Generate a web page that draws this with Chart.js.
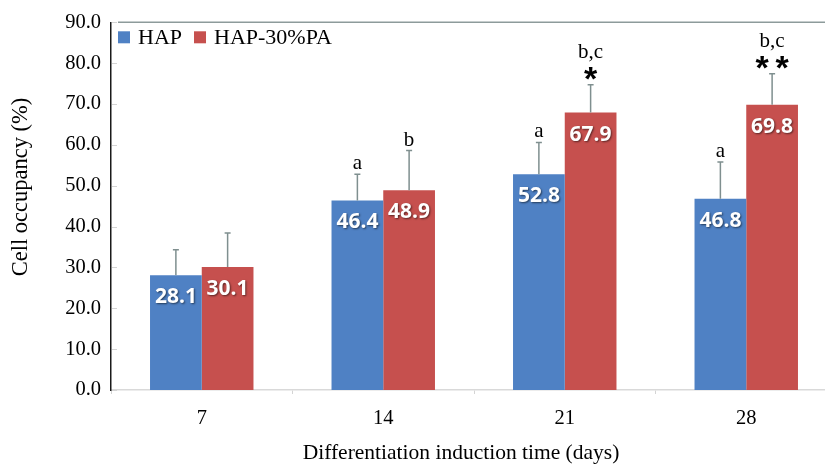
<!DOCTYPE html>
<html lang="en">
<head>
    <meta charset="UTF-8">
    <title>Cell occupancy</title>
    <script src="https://cdn.jsdelivr.net/npm/chart.js"></script>
    <style>
        html, body {
            margin: 0;
            padding: 0;
            background: #fff;
            overflow: hidden;
        }
        .wrap {
            width: 840px;
            height: 465px;
        }
    </style>
</head>
<body>
    <div class="wrap">
        <canvas id="occChart" width="840" height="465"></canvas>
    </div>

    <script>
        // data
        const days = ['7', '14', '21', '28'];
        const hapValues = [28.1, 46.4, 52.8, 46.8];
        const paValues = [30.1, 48.9, 67.9, 69.8];
        const hapSD = [6.2, 6.4, 7.8, 9.0];
        const paSD = [8.3, 9.7, 6.8, 7.6];
        const hapLetters = ['', 'a', 'a', 'a'];
        const paLetters = ['', 'b', 'b,c', 'b,c'];
        const paStars = ['', '', '*', '**'];

        const xTitle = 'Differentiation induction time (days)';
        const yTitle = 'Cell occupancy (%)';

        const serif = '"Liberation Serif", "Times New Roman", serif';
        const blue = '#4f81c4';
        const red = '#c6504e';

        // upper error bars, significance letters and stars
        const annotations = {
            id: 'annotations',
            afterDatasetsDraw(chart) {
                const c = chart.ctx;
                const y = chart.scales.y;
                const sets = [
                    { sd: hapSD, vals: hapValues, letters: hapLetters, stars: null },
                    { sd: paSD, vals: paValues, letters: paLetters, stars: paStars }
                ];
                sets.forEach((s, di) => {
                    chart.getDatasetMeta(di).data.forEach((bar, i) => {
                        const top = y.getPixelForValue(s.vals[i] + s.sd[i]);
                        c.save();
                        c.strokeStyle = '#7f8f8f';
                        c.lineWidth = 1.5;
                        c.beginPath();
                        c.moveTo(bar.x, bar.y);
                        c.lineTo(bar.x, top);
                        c.moveTo(bar.x - 3, top);
                        c.lineTo(bar.x + 3, top);
                        c.stroke();

                        c.fillStyle = '#000';
                        c.textAlign = 'center';
                        c.textBaseline = 'alphabetic';
                        let base = top - 5;
                        if (s.stars && s.stars[i]) {
                            c.font = 'bold 34px "Liberation Sans", Arial, sans-serif';
                            const n = s.stars[i].length;
                            for (let k = 0; k < n; k++) {
                                const sx = bar.x + (k - (n - 1) / 2) * 20;
                                c.fillText('*', sx, top + 5);
                            }
                            base = top - 27;
                        }
                        if (s.letters[i]) {
                            c.font = '21px ' + serif;
                            c.fillText(s.letters[i], bar.x, base);
                        }
                        c.restore();
                    });
                });
            },
            afterDraw(chart) {
                const c = chart.ctx;
                const a = chart.chartArea;
                c.save();
                // thin frame line on top
                c.strokeStyle = '#8d9b9b';
                c.lineWidth = 1.5;
                c.beginPath();
                c.moveTo(a.left + 7, a.top);
                c.lineTo(a.right, a.top);
                c.stroke();
                // tiny inner tick marks on the y axis
                c.strokeStyle = '#d4d4d4';
                c.lineWidth = 1;
                chart.scales.y.ticks.forEach(t => {
                    const py = Math.round(chart.scales.y.getPixelForValue(t.value)) + 0.5;
                    c.beginPath();
                    c.moveTo(a.left + 1, py);
                    c.lineTo(a.left + 6, py);
                    c.stroke();
                });

                // legend inside the plot, top left
                c.textAlign = 'left';
                c.textBaseline = 'alphabetic';
                c.font = '22px ' + serif;
                c.fillStyle = '#000';
                let lx = a.left + 7;
                chart.data.datasets.forEach(ds => {
                    c.fillStyle = ds.backgroundColor;
                    c.fillRect(lx, a.top + 9, 12, 12);
                    c.fillStyle = '#000';
                    c.fillText(ds.label, lx + 20, a.top + 22);
                    lx += 20 + c.measureText(ds.label).width + 12;
                });

                // axis titles (offset from centre like in the figure)
                c.textAlign = 'center';
                c.textBaseline = 'middle';
                c.font = '21.5px ' + serif;
                c.fillText(xTitle, 461, 453);
                c.font = '22.5px ' + serif;
                c.translate(21, 187);
                c.rotate(-Math.PI / 2);
                c.fillText(yTitle, 0, 0);
                c.restore();
            }
        };

        // white value labels inside the bars
        const valueLabels = {
            id: 'valueLabels',
            afterDatasetsDraw(chart) {
                const c = chart.ctx;
                c.save();
                c.font = 'bold 21px "Open Sans", "DejaVu Sans", sans-serif';
                c.textAlign = 'center';
                c.textBaseline = 'middle';
                c.fillStyle = '#fff';
                c.shadowColor = 'rgba(0,0,0,0.55)';
                c.shadowOffsetX = 1;
                c.shadowOffsetY = 1;
                c.shadowBlur = 2;
                chart.data.datasets.forEach((ds, di) => {
                    chart.getDatasetMeta(di).data.forEach((bar, i) => {
                        c.fillText(ds.data[i].toFixed(1), bar.x, bar.y + 22);
                    });
                });
                c.restore();
            }
        };

        const ctx = document.getElementById('occChart').getContext('2d');
        const chart = new Chart(ctx, {
            type: 'bar',
            data: {
                labels: days,
                datasets: [
                    { label: 'HAP', data: hapValues, backgroundColor: blue },
                    { label: 'HAP-30%PA', data: paValues, backgroundColor: red }
                ]
            },
            options: {
                responsive: false,
                animation: false,
                devicePixelRatio: 1,
                layout: { padding: { left: 10, top: 20, right: 3, bottom: 0 } },
                datasets: {
                    bar: { categoryPercentage: 0.57, barPercentage: 1.0 }
                },
                plugins: {
                    legend: { display: false },
                    tooltip: { enabled: false }
                },
                scales: {
                    x: {
                        afterFit(scale) { scale.height = 75; },
                        grid: {
                            display: true,
                            drawOnChartArea: false,
                            drawTicks: true,
                            tickLength: 4,
                            offset: true,
                            color: '#d4d4d4'
                        },
                        border: { display: true, color: '#d9d9d9', width: 1.5 },
                        ticks: {
                            color: '#000',
                            padding: 12,
                            font: { family: serif, size: 20.5 }
                        }
                    },
                    y: {
                        min: 0,
                        max: 90,
                        afterFit(scale) { scale.width = 101; },
                        grid: { display: false, drawTicks: false },
                        border: { display: true, color: '#1a1a1a', width: 1.5 },
                        ticks: {
                            stepSize: 10,
                            color: '#000',
                            padding: 10,
                            font: { family: serif, size: 20.5 },
                            callback: v => v.toFixed(1)
                        }
                    }
                }
            },
            plugins: [valueLabels, annotations]
        });
    </script>
</body>
</html>
